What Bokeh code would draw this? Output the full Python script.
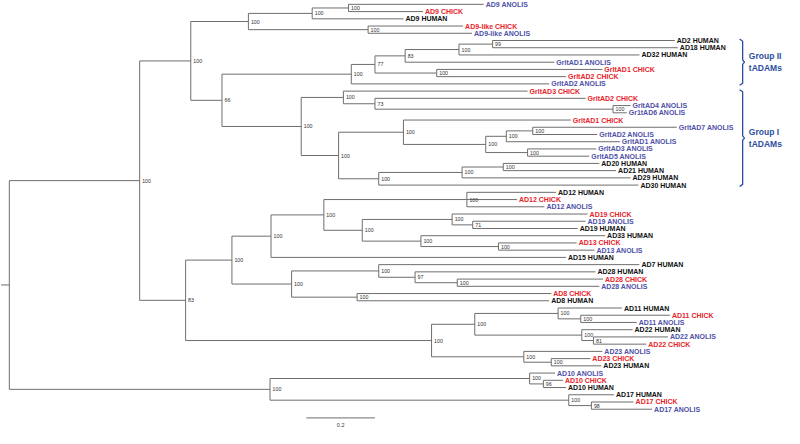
from bokeh.plotting import figure
from bokeh.models import ColumnDataSource, Range1d
from bokeh.core.properties import value
from bokeh.embed import file_html
from bokeh.resources import INLINE

# ---------------- data ----------------
taxa = [
    "AD9 ANOLIS", "AD9 CHICK", "AD9 HUMAN", "AD9-like CHICK", "AD9-like ANOLIS",
    "AD2 HUMAN", "AD18 HUMAN", "AD32 HUMAN", "GrltAD1 ANOLIS", "GrltAD1 CHICK",
    "GrltAD2 CHICK", "GrltAD2 ANOLIS", "GrltAD3 CHICK", "GrltAD2 CHICK", "GrltAD4 ANOLIS",
    "Gr1tAD6 ANOLIS", "GrltAD1 CHICK", "GrltAD7 ANOLIS", "GrltAD2 ANOLIS", "GrltAD1 ANOLIS",
    "GrltAD3 ANOLIS", "GrltAD5 ANOLIS", "AD20 HUMAN", "AD21 HUMAN", "AD29 HUMAN",
    "AD30 HUMAN", "AD12 HUMAN", "AD12 CHICK", "AD12 ANOLIS", "AD19 CHICK",
    "AD19 ANOLIS", "AD19 HUMAN", "AD33 HUMAN", "AD13 CHICK", "AD13 ANOLIS",
    "AD15 HUMAN", "AD7 HUMAN", "AD28 HUMAN", "AD28 CHICK", "AD28 ANOLIS",
    "AD8 CHICK", "AD8 HUMAN", "AD11 HUMAN", "AD11 CHICK", "AD11 ANOLIS",
    "AD22 HUMAN", "AD22 ANOLIS", "AD22 CHICK", "AD23 ANOLIS", "AD23 CHICK",
    "AD23 HUMAN", "AD10 ANOLIS", "AD10 CHICK", "AD10 HUMAN", "AD17 HUMAN",
    "AD17 CHICK", "AD17 ANOLIS",
]
# distance of each tip from the root (substitutions per site)
tip_depth = [
    1.383, 1.206, 1.149, 1.323, 1.349,
    1.940, 1.949, 1.837, 1.589, 1.729,
    1.623, 1.574, 1.511, 1.680, 1.811,
    1.800, 1.637, 1.946, 1.714, 1.780,
    1.711, 1.691, 1.720, 1.769, 1.811,
    1.834, 1.594, 1.480, 1.560, 1.686,
    1.680, 1.657, 1.737, 1.654, 1.706,
    1.623, 1.837, 1.709, 1.731, 1.720,
    1.580, 1.574, 1.786, 1.926, 1.829,
    1.817, 1.920, 1.857, 1.729, 1.694,
    1.726, 1.591, 1.614, 1.623, 1.763,
    1.820, 1.874,
]
# internal nodes: children (int = tip index, str = node id), depth, bootstrap support
node_id = ["root", "A", "B", "A1", "N9", "N9a", "N9b", "N9l", "N226",
           "G2", "G2a", "G2b", "G2d", "G2e", "G2c",
           "G1", "G1a", "G1c", "G1d", "G1b", "G1e", "G1g", "G1h", "G1j", "G1i", "G1f", "G1k", "G1l",
           "A2", "C1", "C3", "C5", "C6", "C7", "C8", "C10", "C9", "C11",
           "C4", "C12", "C14", "C15", "C13",
           "C2", "C16", "C18", "C20", "C19", "C21", "C17", "C22",
           "B1", "B3", "B2", "B4"]
node_children = [["A", "B"], ["A1", "A2"], ["B1", "B2"], ["N9", "N226"], ["N9a", "N9l"],
                 ["N9b", 2], [0, 1], [3, 4], ["G2", "G1"],
                 ["G2a", 11], ["G2b", "G2c"], ["G2d", 8], ["G2e", 7], [5, 6], [9, 10],
                 ["G1a", "G1b"], [12, "G1c"], [13, "G1d"], [14, 15], ["G1e", "G1f"], [16, "G1g"],
                 ["G1h", "G1i"], ["G1j", 19], [17, 18], [20, 21], ["G1k", 25], ["G1l", 24], [22, 23],
                 ["C1", "C2"], ["C3", "C4"], ["C5", 35], ["C6", "C7"], [26, 27, 28], ["C8", "C9"],
                 [29, "C10"], [30, 31], [32, "C11"], [33, 34],
                 ["C12", "C13"], [36, "C14"], [37, "C15"], [38, 39], [40, 41],
                 ["C16", "C17"], ["C18", "C19"], [42, "C20"], [43, 44], [45, "C21"], [46, 47],
                 [48, "C22"], [49, 50],
                 [51, "B3"], [52, 53], [54, "B4"], [55, 56]]
node_depth = [0.0, 0.380, 0.760, 0.529, 0.697, 0.883, 0.989, 1.046, 0.620,
              0.997, 1.066, 1.154, 1.311, 1.409, 1.246,
              0.851, 0.974, 1.066, 1.760, 0.960, 1.149, 1.389, 1.449, 1.526, 1.511, 1.077, 1.320, 1.440,
              0.514, 0.649, 0.763, 0.917, 1.334, 1.029, 1.291, 1.351, 1.200, 1.426,
              0.823, 1.077, 1.183, 1.306, 1.014,
              1.231, 1.357, 1.600, 1.666, 1.669, 1.703, 1.500, 1.580,
              1.517, 1.557, 1.631, 1.697]
node_support = [None, 100, 100, 100, 100, 100, 100, 100, 66,
                100, 77, 83, 100, 99, 100,
                100, 100, 73, 100, 100, 100, 100, 100, 100, 100, 100, 100, 100,
                83, 100, 100, 100, 100, 100, 100, 71, 100, 100,
                100, 100, 97, 100, 100,
                100, 100, 100, 100, 100, 81, 100, 100,
                100, 96, 100, 98]

group_labels = [("Group II", "tADAMs"), ("Group I", "tADAMs")]
group_first_tip = [5, 12]
group_last_tip = [11, 25]
scale_len = 0.2

# ---------------- layout helpers ----------------
species_color = {"CHICK": "#e8232b", "ANOLIS": "#4f51a8", "HUMAN": "#111111"}
line_color = "#6e6e6e"

idx = {n: i for i, n in enumerate(node_id)}
ypos = {}

def node_y(ref):
    if isinstance(ref, int):
        return float(ref)
    if ref in ypos:
        return ypos[ref]
    ch = node_children[idx[ref]]
    y = sum(node_y(c) for c in ch) / len(ch)
    ypos[ref] = y
    return y

def depth(ref):
    return tip_depth[ref] if isinstance(ref, int) else node_depth[idx[ref]]

x0s, y0s, x1s, y1s = [], [], [], []
for n in node_id:
    nd = node_depth[idx[n]]
    cys = [node_y(c) for c in node_children[idx[n]]]
    x0s.append(nd); x1s.append(nd); y0s.append(min(cys)); y1s.append(max(cys))
    for c in node_children[idx[n]]:
        cy = node_y(c)
        x0s.append(nd); x1s.append(depth(c)); y0s.append(cy); y1s.append(cy)
# root stem
ry = node_y("root")
x0s.append(-0.024); x1s.append(0.0); y0s.append(ry); y1s.append(ry)

seg_src = ColumnDataSource(dict(x0=x0s, y0=y0s, x1=x1s, y1=y1s))

tip_colors = [species_color[t.split()[-1]] for t in taxa]
tip_src = ColumnDataSource(dict(x=tip_depth, y=list(range(len(taxa))), t=taxa, c=tip_colors))

sup_x, sup_y, sup_t = [], [], []
for n, s in zip(node_id, node_support):
    if s is None:
        continue
    sup_x.append(node_depth[idx[n]]); sup_y.append(node_y(n)); sup_t.append(str(s))
sup_src = ColumnDataSource(dict(x=sup_x, y=sup_y, t=sup_t))

# ---------------- figure ----------------
W, H = 784, 428
p = figure(width=W, height=H, output_backend="svg", toolbar_location=None,
           x_range=Range1d(-9 / 350, 791 / 350), y_range=Range1d(440 / 7.5, -4 / 7.5),
           min_border=0, min_border_left=0, min_border_right=0,
           min_border_top=0, min_border_bottom=0)
p.axis.visible = False
p.grid.visible = False
p.outline_line_color = None
p.background_fill_color = "white"

p.segment(x0="x0", y0="y0", x1="x1", y1="y1", source=seg_src,
          line_color=line_color, line_width=1)

p.text(x="x", y="y", text="t", source=tip_src, text_color="c",
       text_font=value("Liberation Sans"), text_font_style="bold",
       text_font_size="7px", text_baseline="middle", x_offset=2)

p.text(x="x", y="y", text="t", source=sup_src, text_color="#333333",
       text_font=value("Liberation Sans"), text_font_size="5.3px",
       text_baseline="middle", x_offset=2.5)

# group braces
grp_color = "#2c4f9e"
bx = 2.138
hook = 0.009
for (l1, l2), a, b in zip(group_labels, group_first_tip, group_last_tip):
    top = a - 0.2
    bot = b + 0.2
    mid = (top + bot) / 2
    p.line(x=[bx - hook, bx, bx, bx + hook * 0.6, bx, bx, bx - hook],
           y=[top, top + 0.3, mid - 0.3, mid, mid + 0.3, bot - 0.3, bot],
           line_color=grp_color, line_width=1.3)
    p.text(x=[bx + 0.018, bx + 0.018], y=[mid - 0.85, mid + 0.85], text=[l1, l2],
           text_color=grp_color, text_font=value("Liberation Sans"),
           text_font_style="bold", text_font_size="8.5px", text_baseline="middle")

# scale bar
sb_x = 0.866
sb_y = 57.2
p.segment(x0=[sb_x], y0=[sb_y], x1=[sb_x + scale_len], y1=[sb_y],
          line_color=line_color, line_width=1)
p.text(x=[sb_x + scale_len / 2], y=[sb_y + 0.95], text=[f"{scale_len:.1f}"],
       text_color="#333333", text_font=value("Liberation Sans"),
       text_font_size="5.5px", text_align="center", text_baseline="middle")

open("out.html", "w").write(file_html(p, INLINE))
